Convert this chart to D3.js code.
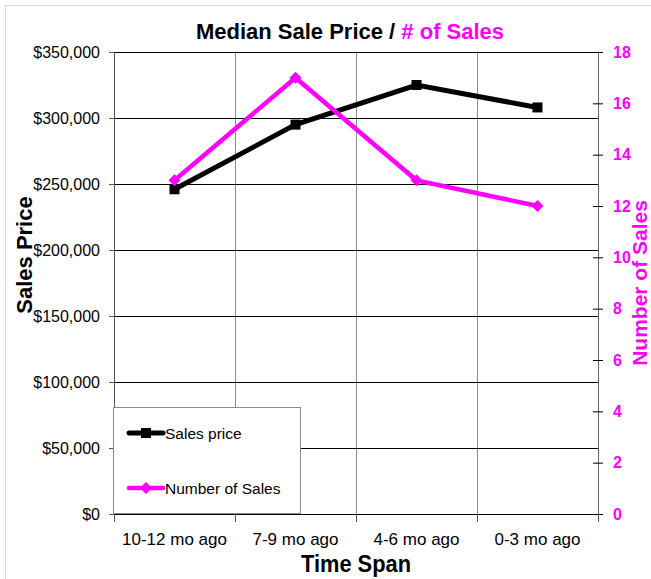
<!DOCTYPE html>
<html>
<head>
<meta charset="utf-8">
<script src="https://cdn.jsdelivr.net/npm/d3@7"></script>
<style>
  body { margin: 0; background: #fff; }
  svg text { font-family: "Liberation Sans", Arial, sans-serif; }
</style>
</head>
<body>
<div class="chart"></div>
<script>
// data
const categories = ["10-12 mo ago", "7-9 mo ago", "4-6 mo ago", "0-3 mo ago"];
const salesPrice = [246000, 295000, 325000, 308000];
const numSales = [13, 17, 13, 12];
const priceTicks = [0, 50000, 100000, 150000, 200000, 250000, 300000, 350000];
const countTicks = [0, 2, 4, 6, 8, 10, 12, 14, 16, 18];

const MAGENTA = "#ff00ff";
const width = 651, height = 579;
const plotL = 114, plotR = 598, plotT = 52, plotB = 514;

var svg = d3.select(".chart")
  .append("svg")
  .attr("width", width)
  .attr("height", height);

// light outer frame
svg.append("rect")
  .attr("x", 5.5).attr("y", 5.5)
  .attr("width", 700).attr("height", 700)
  .attr("fill", "none")
  .attr("stroke", "#d9d9d9");

var x = d3.scaleBand().domain(categories).range([plotL, plotR]);
var xb = d3.scaleLinear().domain([0, categories.length]).range([plotL, plotR]);
var yL = d3.scaleLinear().domain([0, 350000]).range([plotB, plotT]);
var yR = d3.scaleLinear().domain([0, 18]).range([plotB, plotT]);

// vertical grid (category boundaries)
svg.append("g")
  .attr("transform", "translate(0," + plotB + ")")
  .call(d3.axisBottom(xb).tickValues([1, 2, 3]).tickSize(-(plotB - plotT)).tickFormat(""))
  .call(g => g.select(".domain").remove())
  .call(g => g.selectAll("line").attr("stroke", "#8c8c8c"));

// horizontal grid
svg.append("g")
  .attr("transform", "translate(" + plotL + ",0)")
  .call(d3.axisLeft(yL).tickValues(priceTicks).tickSize(-(plotR - plotL)).tickFormat(""))
  .call(g => g.select(".domain").remove())
  .call(g => g.selectAll("line").attr("stroke", "#000"));

// left axis
svg.append("g")
  .attr("transform", "translate(" + plotL + ",0)")
  .call(d3.axisLeft(yL).tickValues(priceTicks).tickSize(5).tickPadding(9).tickFormat(d3.format("$,")))
  .call(g => g.select(".domain").attr("stroke", "#555"))
  .call(g => g.selectAll("line").attr("stroke", "#555"))
  .call(g => g.selectAll("text").style("font-size", "16px").attr("fill", "#000"));

// right axis
svg.append("g")
  .attr("transform", "translate(" + plotR + ",0)")
  .call(d3.axisRight(yR).tickValues(countTicks).tickSize(5).tickPadding(10))
  .call(g => g.select(".domain").attr("stroke", "#666"))
  .call(g => g.selectAll(".tick line").attr("x1", -5).attr("x2", 5).attr("stroke", "#000"))
  .call(g => g.selectAll("text").style("font-size", "16px").style("font-weight", "bold").attr("fill", MAGENTA));

// bottom axis: boundary ticks
svg.append("g")
  .attr("transform", "translate(0," + plotB + ")")
  .call(d3.axisBottom(xb).ticks(4).tickSize(8).tickFormat(""))
  .call(g => g.select(".domain").attr("stroke", "#000"))
  .call(g => g.selectAll("line").attr("stroke", "#555"));

// bottom axis: category labels
svg.append("g")
  .attr("transform", "translate(0," + plotB + ")")
  .call(d3.axisBottom(x).tickSize(0).tickPadding(19))
  .call(g => g.select(".domain").remove())
  .call(g => g.selectAll("text").style("font-size", "17px").attr("fill", "#000"));

// series
var cx = (d, i) => x(categories[i]) + x.bandwidth() / 2;

svg.append("path")
  .datum(salesPrice)
  .attr("fill", "none")
  .attr("stroke", "#000")
  .attr("stroke-width", 5)
  .attr("d", d3.line().x(cx).y(d => yL(d)));

svg.selectAll(".sq")
  .data(salesPrice)
  .enter().append("rect")
  .attr("class", "sq")
  .attr("x", (d, i) => cx(d, i) - 5)
  .attr("y", d => yL(d) - 5)
  .attr("width", 10).attr("height", 10)
  .attr("fill", "#000");

svg.append("path")
  .datum(numSales)
  .attr("fill", "none")
  .attr("stroke", MAGENTA)
  .attr("stroke-width", 4.5)
  .attr("d", d3.line().x(cx).y(d => yR(d)));

svg.selectAll(".dm")
  .data(numSales)
  .enter().append("path")
  .attr("class", "dm")
  .attr("transform", (d, i) => "translate(" + cx(d, i) + "," + yR(d) + ")")
  .attr("d", "M0,-6L6,0L0,6L-6,0Z")
  .attr("fill", MAGENTA);

// legend
var legend = svg.append("g");
legend.append("rect")
  .attr("x", 113.5).attr("y", 407.5)
  .attr("width", 187).attr("height", 106)
  .attr("fill", "#fff")
  .attr("stroke", "#8c8c8c");

var legendItems = [
  { label: "Sales price", color: "#000", y: 433, shape: "sq" },
  { label: "Number of Sales", color: MAGENTA, y: 488, shape: "dm" }
];
legendItems.forEach(it => {
  legend.append("line")
    .attr("x1", 129).attr("x2", 163)
    .attr("y1", it.y).attr("y2", it.y)
    .attr("stroke", it.color)
    .attr("stroke-width", it.shape == "sq" ? 5 : 4.5)
    .attr("stroke-linecap", "round");
  if (it.shape == "sq") {
    legend.append("rect")
      .attr("x", 141).attr("y", it.y - 5)
      .attr("width", 10).attr("height", 10)
      .attr("fill", it.color);
  } else {
    legend.append("path")
      .attr("transform", "translate(146," + it.y + ")")
      .attr("d", "M0,-6L6,0L0,6L-6,0Z")
      .attr("fill", it.color);
  }
  legend.append("text")
    .attr("x", 165).attr("y", it.y + 6)
    .style("font-size", "15.5px")
    .text(it.label);
});

// title
var title = svg.append("text")
  .attr("x", 350).attr("y", 39)
  .attr("text-anchor", "middle")
  .style("font-size", "22px")
  .style("font-weight", "bold");
title.append("tspan").attr("fill", "#000").text("Median Sale Price / ");
title.append("tspan").attr("fill", MAGENTA).text("# of Sales");

// axis titles
svg.append("text")
  .attr("transform", "translate(32,255) rotate(-90)")
  .attr("text-anchor", "middle")
  .style("font-size", "22px")
  .style("font-weight", "bold")
  .text("Sales Price");

svg.append("text")
  .attr("transform", "translate(647,283) rotate(-90)")
  .attr("text-anchor", "middle")
  .style("font-size", "21px")
  .style("font-weight", "bold")
  .attr("fill", MAGENTA)
  .text("Number of Sales");

svg.append("text")
  .attr("x", 356).attr("y", 572)
  .attr("text-anchor", "middle")
  .attr("textLength", 110)
  .attr("lengthAdjust", "spacingAndGlyphs")
  .style("font-size", "24px")
  .style("font-weight", "bold")
  .text("Time Span");
</script>
</body>
</html>
